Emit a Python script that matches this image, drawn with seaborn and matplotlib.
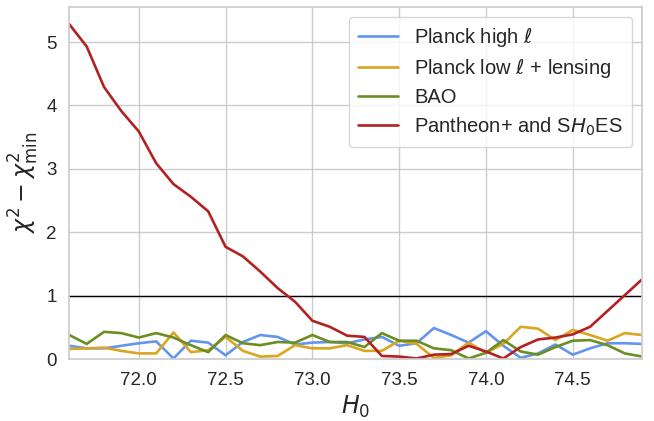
import numpy as np
import pandas as pd
import seaborn as sns
import matplotlib.pyplot as plt

# Hubble constant grid
h0 = [71.6, 71.7, 71.8, 71.9, 72.0, 72.1, 72.2, 72.3, 72.4, 72.5,
      72.6, 72.7, 72.8, 72.9, 73.0, 73.1, 73.2, 73.3, 73.4, 73.5,
      73.6, 73.7, 73.8, 73.9, 74.0, 74.1, 74.2, 74.3, 74.4, 74.5,
      74.6, 74.7, 74.8, 74.9]

planck_high = [0.21, 0.17, 0.17, 0.21, 0.25, 0.28, 0.01, 0.29, 0.26, 0.06,
               0.27, 0.38, 0.35, 0.23, 0.26, 0.27, 0.25, 0.31, 0.35, 0.21,
               0.25, 0.49, 0.38, 0.26, 0.44, 0.21, 0.02, 0.09, 0.23, 0.07,
               0.17, 0.25, 0.25, 0.24]

planck_low = [0.16, 0.17, 0.18, 0.13, 0.09, 0.09, 0.42, 0.11, 0.14, 0.35,
              0.13, 0.04, 0.05, 0.22, 0.17, 0.17, 0.22, 0.13, 0.13, 0.29,
              0.24, 0.02, 0.06, 0.26, 0.10, 0.24, 0.51, 0.48, 0.30, 0.46,
              0.38, 0.29, 0.41, 0.38]

bao = [0.38, 0.24, 0.43, 0.41, 0.34, 0.41, 0.34, 0.22, 0.11, 0.38,
       0.25, 0.22, 0.27, 0.26, 0.38, 0.27, 0.27, 0.19, 0.41, 0.29,
       0.29, 0.17, 0.14, 0.01, 0.10, 0.30, 0.12, 0.07, 0.19, 0.29,
       0.30, 0.22, 0.09, 0.04]

pantheon = [5.28, 4.93, 4.29, 3.91, 3.59, 3.09, 2.76, 2.56, 2.33, 1.77,
            1.62, 1.38, 1.12, 0.905, 0.605, 0.51, 0.37, 0.35, 0.05, 0.04,
            0.01, 0.07, 0.08, 0.21, 0.12, 0.01, 0.19, 0.31, 0.34, 0.39,
            0.51, 0.76, 1.01, 1.26]

labels = [r"Planck high $\ell$", r"Planck low $\ell$ + lensing", "BAO",
          r"Pantheon+ and S$H_0$ES"]
colors = ["#6495ED", "#DAA520", "#6B8E23", "#B22222"]

frames = []
for lab, vals in zip(labels, [planck_high, planck_low, bao, pantheon]):
    frames.append(pd.DataFrame({"H0": h0, "dchi2": vals, "probe": lab}))
df = pd.concat(frames, ignore_index=True)

sns.set_theme(style="whitegrid")
plt.rcParams["font.family"] = ["Liberation Sans", "DejaVu Sans"]
plt.rcParams["mathtext.fontset"] = "dejavusans"

fig, ax = plt.subplots(figsize=(6.54, 4.21), dpi=100)
fig.subplots_adjust(left=0.106, right=0.982, top=0.983, bottom=0.147)

sns.lineplot(data=df, x="H0", y="dchi2", hue="probe", hue_order=labels,
             palette=colors, linewidth=1.9, ax=ax)
ax.axhline(1, color="black", lw=1.0, zorder=1)

ax.set_xlim(71.6, 74.9)
ax.set_ylim(0, 5.55)
ax.set_xticks([72.0, 72.5, 73.0, 73.5, 74.0, 74.5])
ax.set_xticklabels([f"{t:.1f}" for t in [72.0, 72.5, 73.0, 73.5, 74.0, 74.5]])
ax.set_yticks([0, 1, 2, 3, 4, 5])
ax.tick_params(labelsize=13.5, pad=3)
ax.set_xlabel(r"$H_0$", fontsize=17)
ax.set_ylabel(r"$\chi^2 - \chi^2_{\rm min}$", fontsize=17)

leg = ax.legend(loc="upper right", fontsize=14.5, frameon=True,
                handlelength=2.0, borderpad=0.45, labelspacing=0.4)
for line in leg.get_lines():
    line.set_linewidth(1.9)

fig.savefig("out.png", dpi=100)
